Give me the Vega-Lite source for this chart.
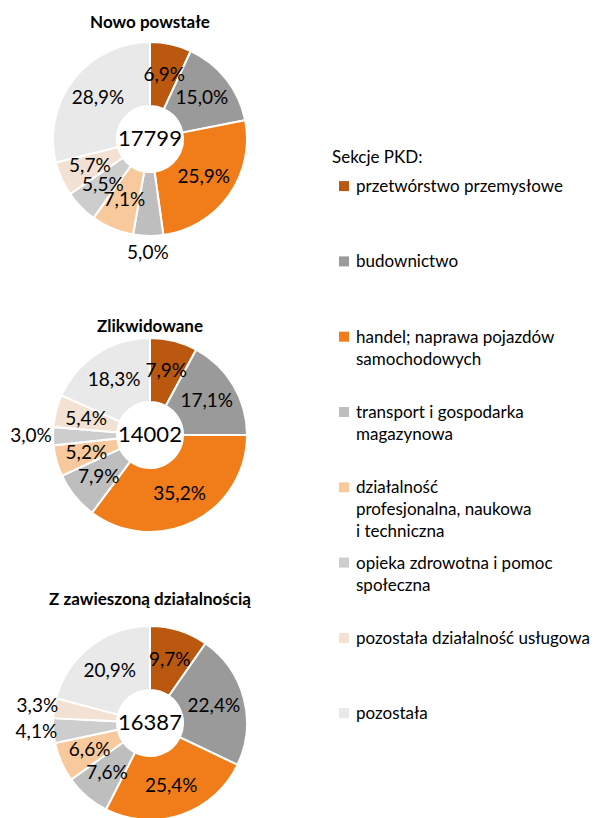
{
  "$schema": "https://vega.github.io/schema/vega-lite/v6.json",
  "padding": {"left": 0, "top": 14, "right": 0, "bottom": 0},
  "background": "white",
  "config": {
    "view": {"stroke": null},
    "font": "Lato",
    "locale": {"number": {"decimal": ",", "thousands": "", "grouping": [3], "currency": ["", ""]}},
    "title": {"font": "Lato", "fontSize": 17, "fontWeight": "bold", "color": "#000000", "anchor": "middle"},
    "text": {"font": "Lato", "color": "#000000"}
  },
  "datasets": {
    "slices": [
      {"chart": "A", "k": 1, "cat": "przetwórstwo przemysłowe", "pct": 0.069},
      {"chart": "A", "k": 2, "cat": "budownictwo", "pct": 0.150},
      {"chart": "A", "k": 3, "cat": "handel; naprawa pojazdów samochodowych", "pct": 0.259},
      {"chart": "A", "k": 4, "cat": "transport i gospodarka magazynowa", "pct": 0.050},
      {"chart": "A", "k": 5, "cat": "działalność profesjonalna, naukowa i techniczna", "pct": 0.071},
      {"chart": "A", "k": 6, "cat": "opieka zdrowotna i pomoc społeczna", "pct": 0.055},
      {"chart": "A", "k": 7, "cat": "pozostała działalność usługowa", "pct": 0.057},
      {"chart": "A", "k": 8, "cat": "pozostała", "pct": 0.289},
      {"chart": "B", "k": 1, "cat": "przetwórstwo przemysłowe", "pct": 0.079},
      {"chart": "B", "k": 2, "cat": "budownictwo", "pct": 0.171},
      {"chart": "B", "k": 3, "cat": "handel; naprawa pojazdów samochodowych", "pct": 0.352},
      {"chart": "B", "k": 4, "cat": "transport i gospodarka magazynowa", "pct": 0.079},
      {"chart": "B", "k": 5, "cat": "działalność profesjonalna, naukowa i techniczna", "pct": 0.052},
      {"chart": "B", "k": 6, "cat": "opieka zdrowotna i pomoc społeczna", "pct": 0.030},
      {"chart": "B", "k": 7, "cat": "pozostała działalność usługowa", "pct": 0.054},
      {"chart": "B", "k": 8, "cat": "pozostała", "pct": 0.183},
      {"chart": "C", "k": 1, "cat": "przetwórstwo przemysłowe", "pct": 0.097},
      {"chart": "C", "k": 2, "cat": "budownictwo", "pct": 0.224},
      {"chart": "C", "k": 3, "cat": "handel; naprawa pojazdów samochodowych", "pct": 0.254},
      {"chart": "C", "k": 4, "cat": "transport i gospodarka magazynowa", "pct": 0.076},
      {"chart": "C", "k": 5, "cat": "działalność profesjonalna, naukowa i techniczna", "pct": 0.066},
      {"chart": "C", "k": 6, "cat": "opieka zdrowotna i pomoc społeczna", "pct": 0.041},
      {"chart": "C", "k": 7, "cat": "pozostała działalność usługowa", "pct": 0.033},
      {"chart": "C", "k": 8, "cat": "pozostała", "pct": 0.209}
    ],
    "totals": [
      {"chart": "A", "total": 17799},
      {"chart": "B", "total": 14002},
      {"chart": "C", "total": 16387}
    ],
    "legend": [
      {"kind": "header", "cat": "Sekcje PKD:", "label": "Sekcje PKD:"},
      {"kind": "item", "cat": "przetwórstwo przemysłowe", "label": "przetwórstwo przemysłowe"},
      {"kind": "item", "cat": "budownictwo", "label": "budownictwo"},
      {"kind": "item", "cat": "handel; naprawa pojazdów samochodowych", "label": "handel; naprawa pojazdów\nsamochodowych"},
      {"kind": "item", "cat": "transport i gospodarka magazynowa", "label": "transport i gospodarka\nmagazynowa"},
      {"kind": "item", "cat": "działalność profesjonalna, naukowa i techniczna", "label": "działalność\nprofesjonalna, naukowa\ni techniczna"},
      {"kind": "item", "cat": "opieka zdrowotna i pomoc społeczna", "label": "opieka zdrowotna i pomoc\nspołeczna"},
      {"kind": "item", "cat": "pozostała działalność usługowa", "label": "pozostała działalność usługowa"},
      {"kind": "item", "cat": "pozostała", "label": "pozostała"}
    ]
  },
  "hconcat": [
    {
      "bounds": "flush",
      "spacing": 105,
      "vconcat": [
        {
          "width": 300, "height": 198,
          "title": {"text": "Nowo powstałe", "offset": 6},
          "layer": [
            {
              "data": {"name": "slices"},
              "transform": [{"filter": "datum.chart == 'A'"}],
              "mark": {"type": "arc", "innerRadius": 33, "outerRadius": 97, "stroke": "white", "strokeWidth": 2},
              "encoding": {
                "theta": {"field": "pct", "type": "quantitative", "stack": true},
                "order": {"field": "k", "type": "quantitative"},
                "color": {"field": "cat", "type": "nominal", "legend": null,
                  "scale": {"domain": ["przetwórstwo przemysłowe", "budownictwo", "handel; naprawa pojazdów samochodowych", "transport i gospodarka magazynowa", "działalność profesjonalna, naukowa i techniczna", "opieka zdrowotna i pomoc społeczna", "pozostała działalność usługowa", "pozostała"],
                            "range": ["#BB5810", "#9A9A9A", "#F07D19", "#BEBEBE", "#F8C99C", "#CDCDCD", "#F3E2D4", "#E9E9E9"]}}
              }
            },
            {
              "data": {"name": "slices"},
              "transform": [{"filter": "datum.chart == 'A'"}],
              "mark": {"type": "text", "fontSize": 19},
              "encoding": {
                "theta": {"field": "pct", "type": "quantitative", "stack": true},
                "order": {"field": "k", "type": "quantitative"},
                "radius": {"value": {"expr": "datum.pct < 0.051 ? 114 : 66"}},
                "text": {"field": "pct", "type": "quantitative", "format": ".1%"}
              }
            },
            {
              "data": {"name": "totals"},
              "transform": [{"filter": "datum.chart == 'A'"}],
              "mark": {"type": "text", "fontSize": 22},
              "encoding": {"text": {"field": "total", "type": "quantitative", "format": "d"}}
            }
          ]
        },
        {
          "width": 300, "height": 184,
          "title": {"text": "Zlikwidowane", "offset": -2},
          "layer": [
            {
              "data": {"name": "slices"},
              "transform": [{"filter": "datum.chart == 'B'"}],
              "mark": {"type": "arc", "innerRadius": 33, "outerRadius": 97, "stroke": "white", "strokeWidth": 2},
              "encoding": {
                "theta": {"field": "pct", "type": "quantitative", "stack": true},
                "order": {"field": "k", "type": "quantitative"},
                "color": {"field": "cat", "type": "nominal", "legend": null}
              }
            },
            {
              "data": {"name": "slices"},
              "transform": [{"filter": "datum.chart == 'B'"}],
              "mark": {"type": "text", "fontSize": 19},
              "encoding": {
                "theta": {"field": "pct", "type": "quantitative", "stack": true},
                "order": {"field": "k", "type": "quantitative"},
                "radius": {"value": {"expr": "datum.pct < 0.051 ? 119 : 66"}},
                "text": {"field": "pct", "type": "quantitative", "format": ".1%"}
              }
            },
            {
              "data": {"name": "totals"},
              "transform": [{"filter": "datum.chart == 'B'"}],
              "mark": {"type": "text", "fontSize": 22},
              "encoding": {"text": {"field": "total", "type": "quantitative", "format": "d"}}
            }
          ]
        },
        {
          "width": 300, "height": 182,
          "title": {"text": "Z zawieszoną działalnością", "offset": 13},
          "layer": [
            {
              "data": {"name": "slices"},
              "transform": [{"filter": "datum.chart == 'C'"}],
              "mark": {"type": "arc", "innerRadius": 33, "outerRadius": 97, "stroke": "white", "strokeWidth": 2},
              "encoding": {
                "theta": {"field": "pct", "type": "quantitative", "stack": true},
                "order": {"field": "k", "type": "quantitative"},
                "color": {"field": "cat", "type": "nominal", "legend": null}
              }
            },
            {
              "data": {"name": "slices"},
              "transform": [{"filter": "datum.chart == 'C'"}],
              "mark": {"type": "text", "fontSize": 19},
              "encoding": {
                "theta": {"field": "pct", "type": "quantitative", "stack": true},
                "order": {"field": "k", "type": "quantitative"},
                "radius": {"value": {"expr": "datum.pct < 0.051 ? 114 : 66"}},
                "text": {"field": "pct", "type": "quantitative", "format": ".1%"}
              }
            },
            {
              "data": {"name": "totals"},
              "transform": [{"filter": "datum.chart == 'C'"}],
              "mark": {"type": "text", "fontSize": 22},
              "encoding": {"text": {"field": "total", "type": "quantitative", "format": "d"}}
            }
          ]
        }
      ]
    },
    {
      "width": 24,
      "height": 744,
      "data": {"name": "legend"},
      "encoding": {
        "y": {"field": "cat", "type": "nominal", "axis": null,
          "scale": {"type": "point", "padding": 0.94,
            "domain": ["Sekcje PKD:", "przetwórstwo przemysłowe", "budownictwo", "handel; naprawa pojazdów samochodowych", "transport i gospodarka magazynowa", "działalność profesjonalna, naukowa i techniczna", "opieka zdrowotna i pomoc społeczna", "pozostała działalność usługowa", "pozostała"]}}
      },
      "layer": [
        {
          "transform": [{"filter": "datum.kind == 'item'"}],
          "mark": {"type": "point", "shape": "square", "filled": true, "size": 100, "opacity": 1},
          "encoding": {"color": {"field": "cat", "type": "nominal", "legend": null}}
        },
        {
          "transform": [{"filter": "datum.kind == 'item'"}],
          "mark": {"type": "text", "align": "left", "baseline": "alphabetic", "dx": 12, "dy": 6, "fontSize": 17, "lineBreak": "\n", "lineHeight": 22},
          "encoding": {"text": {"field": "label", "type": "nominal"}}
        },
        {
          "transform": [{"filter": "datum.kind == 'header'"}],
          "mark": {"type": "text", "align": "left", "baseline": "middle", "dx": -12, "dy": 47, "fontSize": 17},
          "encoding": {"text": {"field": "label", "type": "nominal"}}
        }
      ]
    }
  ],
  "spacing": 32
}
